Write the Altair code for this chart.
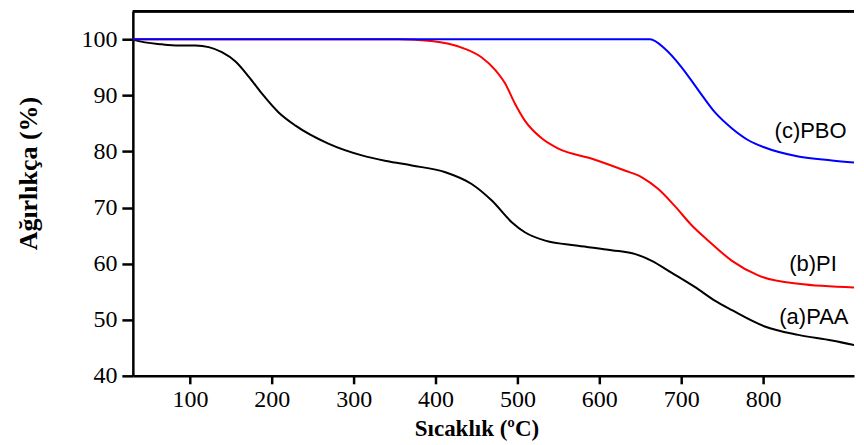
import altair as alt
import pandas as pd

# Temperature (°C) and weight (%)
PAA_T = [30, 34, 66, 86, 107, 123, 139, 156, 172, 188, 208, 229, 269, 310, 340, 371, 412, 444, 469, 493, 509, 534, 574, 615, 644, 664, 688, 717, 741, 762, 802, 843, 884, 920]
PAA_W = [100, 99.8, 99.1, 98.9, 98.9, 98.6, 97.7, 96.0, 93.3, 90.3, 87.0, 84.6, 81.4, 79.3, 78.3, 77.5, 76.3, 74.2, 71.2, 67.4, 65.6, 64.1, 63.2, 62.4, 61.7, 60.5, 58.4, 55.8, 53.4, 51.7, 48.8, 47.3, 46.3, 45.2]

PI_T = [30, 354, 395, 416, 436, 456, 473, 485, 497, 509, 530, 550, 591, 631, 652, 672, 692, 713, 733, 762, 794, 843, 920]
PI_W = [100, 100, 99.7, 99.2, 98.3, 96.8, 94.5, 92.1, 88.5, 85.5, 82.3, 80.5, 78.7, 76.6, 75.4, 73.3, 70.3, 66.8, 64.1, 60.5, 57.9, 56.4, 55.7]

PBO_T = [30, 662, 680, 700, 721, 741, 762, 782, 802, 843, 884, 920]
PBO_W = [100, 100, 98.3, 95.1, 90.9, 87.0, 84.1, 82.0, 80.7, 79.1, 78.4, 77.9]

SERIES = ["PAA", "PI", "PBO"]
COLORS = ["#000000", "#ff0000", "#0000ff"]

LABELS = ["(a)PAA", "(b)PI", "(c)PBO"]
LABEL_T = [862, 861, 858]
LABEL_W = [50.4, 60.0, 83.6]

X_TICKS = [100, 200, 300, 400, 500, 600, 700, 800]
Y_TICKS = [40, 50, 60, 70, 80, 90, 100]

rows = []
for name, ts, ws in zip(SERIES, [PAA_T, PI_T, PBO_T], [PAA_W, PI_W, PBO_W]):
    for i, (t, w) in enumerate(zip(ts, ws)):
        rows.append({"series": name, "T": t, "W": w, "order": i})
df = pd.DataFrame(rows)
lab = pd.DataFrame({"label": LABELS, "T": LABEL_T, "W": LABEL_W})

W, H = 722, 365
xscale = alt.Scale(domain=[30.3, 911], nice=False, zero=False)
yscale = alt.Scale(domain=[40, 105], nice=False, zero=False)

axis_common = dict(
    domainColor="black", domainWidth=2.5, tickColor="black", tickWidth=2.5,
    labelFont="Liberation Serif", labelFontSize=24, labelColor="black",
    titleFont="Liberation Serif", titleFontWeight="bold", titleColor="black",
    grid=False,
)

lines = alt.Chart(df).mark_line(strokeWidth=2, interpolate="monotone", clip=True).encode(
    x=alt.X("T:Q", scale=xscale,
            axis=alt.Axis(values=X_TICKS, tickSize=8, labelPadding=4,
                          title="Sıcaklık (ºC)", titleFontSize=23, titlePadding=6,
                          titleX=344, **axis_common)),
    y=alt.Y("W:Q", scale=yscale,
            axis=alt.Axis(values=Y_TICKS, tickSize=11, labelPadding=5,
                          title="Ağırlıkça (%)", titleFontSize=26,
                          titleX=-91, titleY=162, titleBaseline="bottom", **axis_common)),
    color=alt.Color("series:N", scale=alt.Scale(domain=SERIES, range=COLORS), legend=None),
    order="order:Q",
)

texts = alt.Chart(lab).mark_text(font="Liberation Sans", fontSize=22, color="black",
                                 align="center", baseline="middle").encode(
    x=alt.X("T:Q", scale=xscale),
    y=alt.Y("W:Q", scale=yscale),
    text="label:N",
)

top = alt.Chart(lab).mark_rule(color="black", strokeWidth=2.5).encode(
    x=alt.value(0), x2=alt.value(W), y=alt.value(0)
)

chart = alt.layer(lines, texts, top).properties(
    width=W, height=H,
    padding={"top": 1, "left": 8, "right": 0, "bottom": 0},
    background="white",
).configure_view(stroke=None)

chart.save("out.html", embed_options={"renderer": "svg", "actions": False})
